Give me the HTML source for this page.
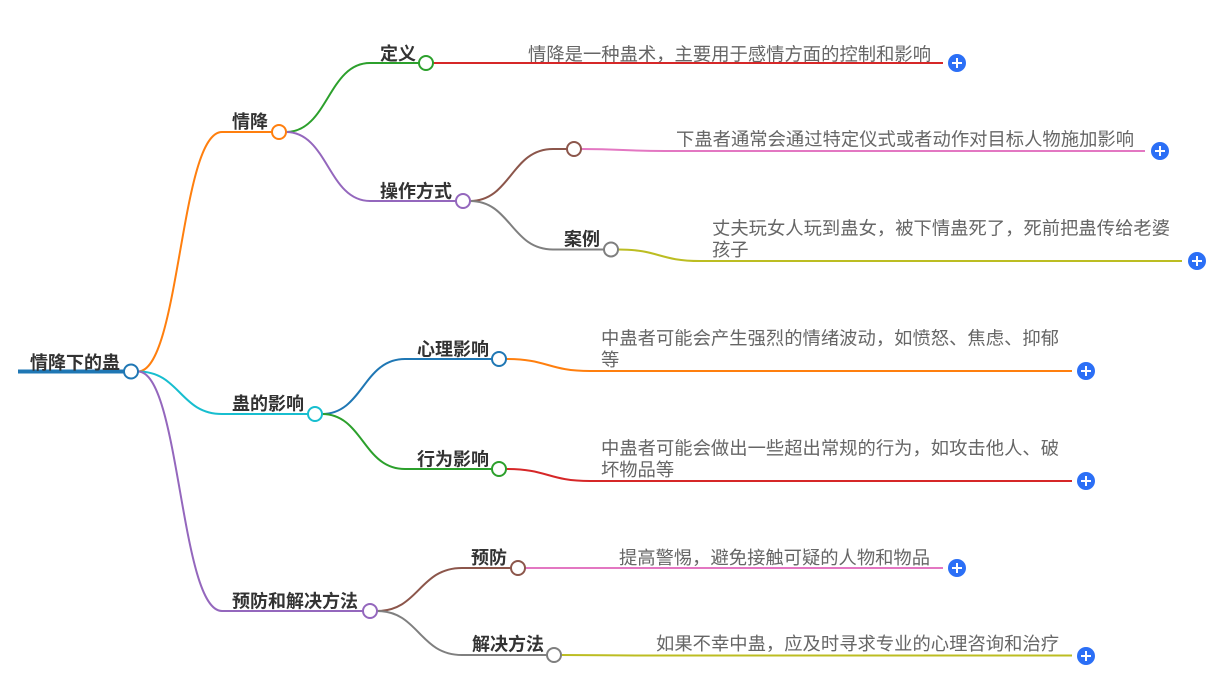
<!DOCTYPE html>
<html>
<head>
<meta charset="utf-8">
<style>
  html, body { margin:0; padding:0; background:#fff; }
  svg { display:block; }
  .lbl { font-family: "Liberation Sans", "Noto Sans CJK SC", sans-serif; font-size:18px; font-weight:bold; fill:#333; }
  .leaf { font-family: "Liberation Sans", "Noto Sans CJK SC", sans-serif; font-size:18.3px; fill:#666; }
  .c { fill:#fff; stroke-width:2; }
  path { fill:none; stroke-width:2; }
</style>
</head>
<body>
<svg width="1226" height="690" viewBox="0 0 1226 690" xmlns="http://www.w3.org/2000/svg">
  <defs>
    <g id="plus">
      <circle r="9" fill="#2b6ff6"/>
      <path d="M-5,0 H5 M0,-5 V5" stroke="#fff" stroke-width="2.2"/>
    </g>
  </defs>

  <!-- Root -->
  <line x1="18" y1="371.5" x2="125" y2="371.5" stroke="#1f77b4" stroke-width="4"/>
  <text class="lbl" x="30" y="369">情降下的蛊</text>

  <!-- Level 1 -->
  <path d="M138,371.5 C180,371.5 180,132 222,132 L272,132" stroke="#ff7f0e"/>
  <path d="M138,371.5 C180,371.5 180,414 222,414 L308,414" stroke="#17becf"/>
  <path d="M138,371.5 C180,371.5 180,611 222,611 L363,611" stroke="#9467bd"/>
  <text class="lbl" x="232" y="128">情降</text>
  <text class="lbl" x="232" y="410">蛊的影响</text>
  <text class="lbl" x="232" y="607.5">预防和解决方法</text>

  <!-- 情降 children -->
  <path d="M286,132 C328,132 328,63 370,63 L419,63" stroke="#2ca02c"/>
  <path d="M286,132 C328,132 328,201 370,201 L456,201" stroke="#9467bd"/>
  <text class="lbl" x="380" y="60">定义</text>
  <text class="lbl" x="380" y="197.5">操作方式</text>

  <!-- 操作方式 children -->
  <path d="M470,201 C511,201 511,149 553,149 L567,149" stroke="#8c564b"/>
  <path d="M470,201 C511,201 511,249.5 553,249.5 L604,249.5" stroke="#7f7f7f"/>
  <text class="lbl" x="564" y="245.5">案例</text>

  <!-- 蛊的影响 children -->
  <path d="M322,414 C363,414 363,359 405,359 L492,359" stroke="#1f77b4"/>
  <path d="M322,414 C363,414 363,469 405,469 L492,469" stroke="#2ca02c"/>
  <text class="lbl" x="417" y="355.5">心理影响</text>
  <text class="lbl" x="417" y="465.5">行为影响</text>

  <!-- 预防和解决方法 children -->
  <path d="M377,611 C419,611 419,568 462,568 L511,568" stroke="#8c564b"/>
  <path d="M377,611 C419,611 419,655 462,655 L547,655" stroke="#7f7f7f"/>
  <text class="lbl" x="471" y="564">预防</text>
  <text class="lbl" x="472" y="650.5">解决方法</text>

  <!-- Leaves -->
  <path d="M433,63 L943,63" stroke="#d62728"/>
  <text class="leaf" x="528" y="60.5" textLength="403" lengthAdjust="spacing">情降是一种蛊术，主要用于感情方面的控制和影响</text>
  <use href="#plus" x="957" y="63"/>

  <path d="M581,149 C623,149 623,151 665,151 L1145,151" stroke="#e377c2"/>
  <text class="leaf" x="676" y="145.5" textLength="458" lengthAdjust="spacing">下蛊者通常会通过特定仪式或者动作对目标人物施加影响</text>
  <use href="#plus" x="1160" y="151"/>

  <path d="M618,249.5 C659,249.5 659,261 700,261 L1182,261" stroke="#bcbd22"/>
  <text class="leaf" x="712" y="234.7" textLength="458" lengthAdjust="spacing">丈夫玩女人玩到蛊女，被下情蛊死了，死前把蛊传给老婆</text>
  <text class="leaf" x="712" y="256">孩子</text>
  <use href="#plus" x="1197" y="261"/>

  <path d="M506,359 C548,359 548,371 590,371 L1072,371" stroke="#ff7f0e"/>
  <text class="leaf" x="601" y="344.7" textLength="458" lengthAdjust="spacing">中蛊者可能会产生强烈的情绪波动，如愤怒、焦虑、抑郁</text>
  <text class="leaf" x="601" y="366">等</text>
  <use href="#plus" x="1086" y="371"/>

  <path d="M506,469 C548,469 548,481 590,481 L1072,481" stroke="#d62728"/>
  <text class="leaf" x="601" y="454.7" textLength="458" lengthAdjust="spacing">中蛊者可能会做出一些超出常规的行为，如攻击他人、破</text>
  <text class="leaf" x="601" y="476">坏物品等</text>
  <use href="#plus" x="1086" y="481"/>

  <path d="M525,568 L943,568" stroke="#e377c2"/>
  <text class="leaf" x="619" y="564" textLength="311" lengthAdjust="spacing">提高警惕，避免接触可疑的人物和物品</text>
  <use href="#plus" x="957" y="568"/>

  <path d="M561,655 C603,655 603,655.5 645,655.5 L1072,655.5" stroke="#bcbd22"/>
  <text class="leaf" x="656" y="650" textLength="403" lengthAdjust="spacing">如果不幸中蛊，应及时寻求专业的心理咨询和治疗</text>
  <use href="#plus" x="1086" y="656"/>

  <!-- Node circles (drawn on top) -->
  <circle class="c" cx="131" cy="371.5" r="7" stroke="#1f77b4"/>
  <circle class="c" cx="279" cy="132" r="7" stroke="#ff7f0e"/>
  <circle class="c" cx="315" cy="414" r="7" stroke="#17becf"/>
  <circle class="c" cx="370" cy="611" r="7" stroke="#9467bd"/>
  <circle class="c" cx="426" cy="63" r="7" stroke="#2ca02c"/>
  <circle class="c" cx="463" cy="201" r="7" stroke="#9467bd"/>
  <circle class="c" cx="574" cy="149" r="7" stroke="#8c564b"/>
  <circle class="c" cx="611" cy="249.5" r="7" stroke="#7f7f7f"/>
  <circle class="c" cx="499" cy="359" r="7" stroke="#1f77b4"/>
  <circle class="c" cx="499" cy="469" r="7" stroke="#2ca02c"/>
  <circle class="c" cx="518" cy="568" r="7" stroke="#8c564b"/>
  <circle class="c" cx="554" cy="655" r="7" stroke="#7f7f7f"/>
</svg>
</body>
</html>
